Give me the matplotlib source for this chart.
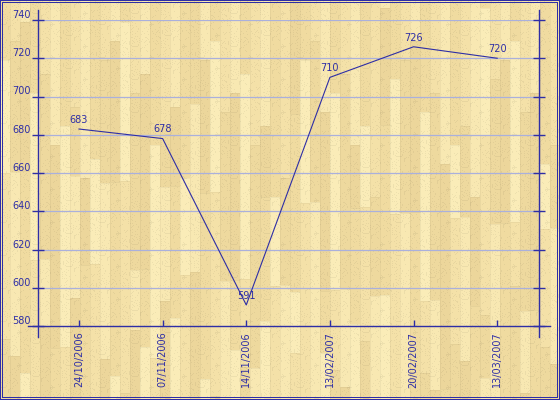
import numpy as np
import matplotlib
matplotlib.use("Agg")
import matplotlib.pyplot as plt

# data
dates = ["24/10/2006", "07/11/2006", "14/11/2006", "13/02/2007", "20/02/2007", "13/03/2007"]
values = [683, 678, 591, 710, 726, 720]
yticks = [580, 600, 620, 640, 660, 680, 700, 720, 740]

W, H = 560, 400
BLUE = "#2e2ea6"
GRID = "#aab0dc"

fig = plt.figure(figsize=(W / 100, H / 100), dpi=100)

# wood plank backdrop (deterministic pattern)
palette = np.array([
    [240, 219, 160], [236, 214, 155], [248, 232, 178],
    [238, 217, 158], [244, 225, 168], [250, 236, 184],
]) / 255.0
img = np.zeros((H, W, 3))
pw = 10
for c in range(W // pw + 1):
    y0 = -((c * 37) % 90)
    k = c * 3
    while y0 < H:
        seg = 60 + (k * 53 + c * 29) % 170
        col = palette[(k * 5 + c * 7) % len(palette)]
        ys, ye = max(y0, 0), min(y0 + seg, H)
        xs, xe = c * pw, min((c + 1) * pw, W)
        if ys < ye and xs < W:
            img[ys:ye, xs:xe] = col
            img[ys:ye, xs] = col * 0.96
            if ys > 0:
                img[ys, xs:xe] = col * 0.96
        y0 += seg
        k += 1
# speckled grain
yy, xx = np.mgrid[0:H, 0:W]
speck = ((xx * 7 + yy * 3 + (xx * yy) % 11) % 9 == 0)
img[speck] *= 0.95

# double frame painted in
fr = np.array([46, 46, 166]) / 255.0
for p in (0, 2):
    img[p, p:W - p] = fr
    img[H - 1 - p, p:W - p] = fr
    img[p:H - p, p] = fr
    img[p:H - p, W - 1 - p] = fr

bg = fig.add_axes([0, 0, 1, 1], zorder=-10)
bg.imshow(img, aspect="auto", interpolation="nearest")
bg.axis("off")

ax = fig.add_axes([38 / W, 74 / H, (539 - 38) / W, (326 - 20) / H])
ax.set_facecolor("none")
x = np.arange(len(dates))
ax.set_xlim(-0.49, 5.50)
ax.set_ylim(580, 740)

for y in yticks[1:]:
    ax.axhline(y, color=GRID, linewidth=0.9, zorder=1)

ax.plot(x, values, color=BLUE, linewidth=0.8, zorder=3)
for xi, v in zip(x, values):
    ax.annotate(str(v), (xi, v), xytext=(0, 3), textcoords="offset points",
                ha="center", va="bottom", fontsize=7, color=BLUE, zorder=4)

for s in ax.spines.values():
    s.set_visible(False)
ax.axhline(580, xmin=-0.02, xmax=1.022, color=BLUE, linewidth=1.0, clip_on=False)
ax.axvline(-0.49, ymin=-0.036, ymax=1.033, color=BLUE, linewidth=1.0, clip_on=False)
ax.axvline(5.50, ymin=-0.036, ymax=1.033, color=BLUE, linewidth=1.0, clip_on=False)

ax.set_yticks(yticks)
ax.set_yticklabels([str(t) for t in yticks])
ax.tick_params(axis="y", which="both", direction="inout", length=9, width=1.0,
               color=BLUE, labelcolor=BLUE, labelsize=7, pad=0.5, right=True, labelright=False)
for lab in ax.get_yticklabels():
    lab.set_va("bottom")

ax.set_xticks(x)
ax.set_xticklabels(dates, rotation=90)
ax.tick_params(axis="x", direction="in", length=4, width=1.0, color=BLUE,
               labelcolor=BLUE, labelsize=7, pad=4)

fig.savefig("out.png", dpi=100)
